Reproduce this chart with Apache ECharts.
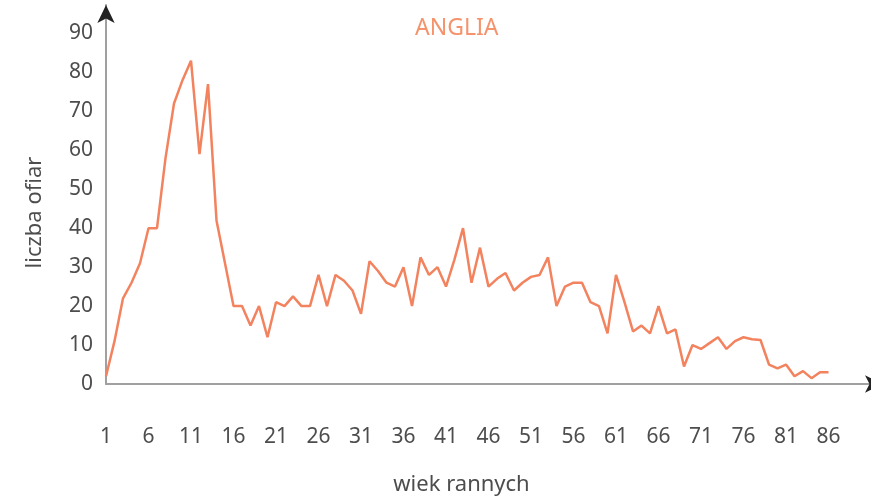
<!DOCTYPE html>
<html>
<head>
<meta charset="utf-8">
<script src="https://cdn.jsdelivr.net/npm/echarts@6/dist/echarts.min.js"></script>
<style>
  html, body { margin: 0; padding: 0; background: #ffffff; }
  #chart { width: 871px; height: 498px; }
</style>
</head>
<body>
<div id="chart"></div>
<script>
const ages = Array.from({ length: 86 }, (_, i) => i + 1);
const victims = [
  2, 11, 22, 26, 31, 40, 40, 58, 72, 78,
  83, 59, 77, 42, 31, 20, 20, 15, 20, 12,
  21, 20, 22.5, 20, 20, 28, 20, 28, 26.5, 24,
  18, 31.5, 29, 26, 25, 30, 20, 32.5, 28, 30,
  25, 32, 40, 26, 35, 25, 27, 28.5, 24, 26,
  27.5, 28, 32.5, 20, 25, 26, 26, 21, 20, 13,
  28, 21, 13.5, 15, 13, 20, 13, 14, 4.5, 10,
  9, 10.5, 12, 9, 11, 12, 11.5, 11.3, 5, 4,
  5, 2, 3.3, 1.5, 3, 3
];
const xTicks = [1, 6, 11, 16, 21, 26, 31, 36, 41, 46, 51, 56, 61, 66, 71, 76, 81, 86];
const yTicks = [0, 10, 20, 30, 40, 50, 60, 70, 80, 90];

const font = "Noto Sans";
const textColor = "#4d4d4d";
const chart = echarts.init(document.getElementById("chart"));

// axes run a bit past the data so the arrows sit where the original has them
const baseX = { type: "value", min: 1, max: 91, position: "bottom", splitLine: { show: false } };
const baseY = { type: "value", min: 0, max: 97.3, position: "left", splitLine: { show: false } };

chart.setOption({
  backgroundColor: "#ffffff",
  animation: false,
  title: {
    text: "ANGLIA",
    left: 410,
    top: 12,
    textStyle: { color: "#f4936c", fontFamily: font, fontSize: 23, fontWeight: "normal" },
  },
  grid: { left: 106, right: 0, top: 5, bottom: 114, containLabel: false, outerBoundsMode: "none" },
  xAxis: [
    {
      ...baseX,
      name: "wiek rannych",
      nameLocation: "middle",
      nameGap: 90,
      nameTextStyle: { color: textColor, fontFamily: font, fontSize: 22, padding: [0, 54, 0, 0] },
      axisLine: { onZero: false, lineStyle: { color: "#a0a0a0", width: 2 } },
      axisTick: { show: false },
      axisLabel: {
        customValues: xTicks,
        margin: 43,
        color: textColor,
        fontFamily: font,
        fontSize: 21,
      },
    },
    {
      ...baseX,
      axisLine: {
        onZero: false,
        symbol: ["none", "arrow"],
        symbolSize: [13, 18],
        symbolOffset: [0, 12],
        lineStyle: { color: "#222", width: 0 },
      },
      axisTick: { show: false },
      axisLabel: { show: false },
    },
  ],
  yAxis: [
    {
      ...baseY,
      name: "liczba ofiar",
      nameLocation: "middle",
      nameGap: 60,
      nameTextStyle: { color: textColor, fontFamily: font, fontSize: 22, padding: [0, 36, 0, 0] },
      axisLine: { show: true, onZero: false, lineStyle: { color: "#a0a0a0", width: 2 } },
      axisTick: { show: false },
      axisLabel: {
        customValues: yTicks,
        margin: 13,
        padding: [9, 0, 0, 0],
        color: textColor,
        fontFamily: font,
        fontSize: 21,
      },
    },
    {
      ...baseY,
      axisLine: {
        show: true,
        onZero: false,
        symbol: ["none", "arrow"],
        symbolSize: [13, 18],
        lineStyle: { color: "#222", width: 0 },
      },
      axisTick: { show: false },
      axisLabel: { show: false },
    },
  ],
  series: [
    {
      type: "line",
      xAxisIndex: 0,
      yAxisIndex: 0,
      data: ages.map((age, i) => [age, victims[i]]),
      symbol: "none",
      lineStyle: { color: "#f3825e", width: 2.5 },
      z: 5,
    },
  ],
});
</script>
</body>
</html>
